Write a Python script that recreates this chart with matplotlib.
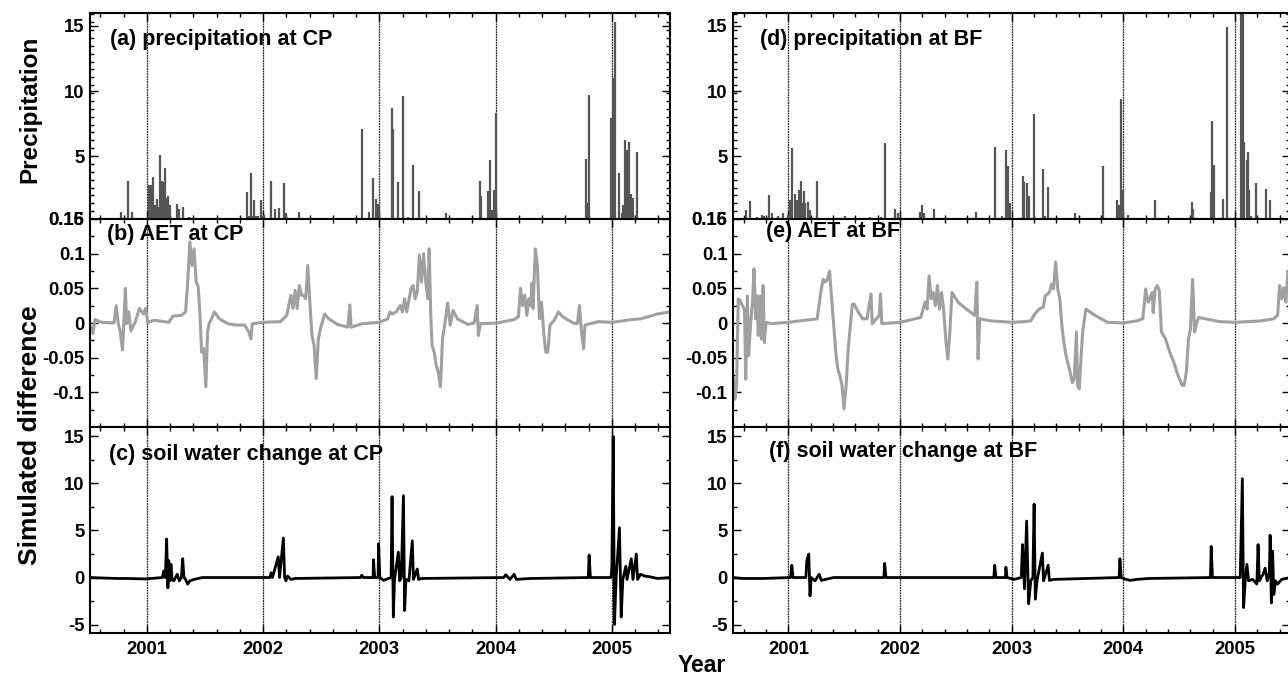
import matplotlib
matplotlib.use("Agg")
import matplotlib.pyplot as plt
from matplotlib.ticker import AutoMinorLocator, FixedLocator

plt.rcParams['font.family'] = ['Liberation Sans', 'DejaVu Sans']
plt.rcParams['font.weight'] = 'bold'
plt.rcParams['axes.unicode_minus'] = False

# ---- precipitation (spikes), decimal year / value ----
precip_cp_t = [2000.725, 2000.779, 2000.808, 2000.837, 2000.870,
               2001.014, 2001.033, 2001.051, 2001.069, 2001.087, 2001.101, 2001.116, 2001.130,
               2001.141, 2001.152, 2001.167, 2001.181, 2001.196, 2001.232, 2001.261, 2001.279,
               2001.312, 2001.359, 2001.406,
               2001.859, 2001.877, 2001.899, 2001.913, 2001.924, 2001.938, 2001.957, 2001.978,
               2001.993, 2002.011, 2002.069, 2002.101, 2002.138, 2002.181, 2002.196, 2002.268,
               2002.312, 2002.746, 2002.848, 2002.909, 2002.949, 2002.967, 2002.986, 2003.000,
               2003.109, 2003.120, 2003.156, 2003.207, 2003.246, 2003.290, 2003.337, 2003.362,
               2003.572, 2003.815, 2003.862, 2003.877, 2003.935, 2003.949, 2003.964, 2003.978,
               2003.989, 2004.005, 2004.775, 2004.790, 2004.804, 2004.993, 2005.011, 2005.025,
               2005.065, 2005.087, 2005.098, 2005.116, 2005.130, 2005.145, 2005.163, 2005.178,
               2005.217]
precip_cp_v = [0.26, 0.7, 0.26, 3.1, 0.7,
               2.8, 2.8, 3.4, 1.2, 1.7, 1.1, 5.1, 3.1,
               3.0, 4.1, 1.8, 1.9, 1.2, 0.2, 1.3, 0.9,
               1.1, 0.35, 0.25,
               2.2, 0.4, 3.7, 0.4, 1.6, 0.4, 0.4, 1.6,
               0.4, 0.45, 3.1, 0.9, 1.0, 2.9, 0.6, 0.2,
               0.7, 0.25, 7.1, 0.7, 3.3, 1.7, 1.3, 1.3,
               8.7, 7.1, 3.0, 9.6, 0.35, 4.3, 2.3, 0.25,
               0.6, 0.25, 3.1, 1.9, 2.3, 4.7, 0.85, 0.85,
               2.4, 8.3, 4.8, 1.4, 9.7, 7.9, 11.0, 15.3,
               3.7, 0.65, 1.2, 6.2, 5.5, 6.1, 2.1, 1.8,
               5.3]

precip_bf_t = [2000.617, 2000.654, 2000.721, 2000.762, 2000.784, 2000.825, 2000.855, 2000.903,
               2000.952, 2000.996, 2001.015, 2001.033, 2001.056, 2001.078, 2001.093, 2001.108,
               2001.123, 2001.138, 2001.152, 2001.171, 2001.190, 2001.260, 2001.357, 2001.509,
               2001.732, 2001.829, 2001.862, 2001.959, 2001.981, 2002.178, 2002.197, 2002.212,
               2002.305, 2002.677, 2002.855, 2002.914, 2002.948, 2002.967, 2002.985,
               2003.100, 2003.115, 2003.134, 2003.152, 2003.201, 2003.283, 2003.301, 2003.327,
               2003.569, 2003.822, 2003.941, 2003.963, 2003.978, 2004.000, 2004.045,
               2004.260, 2004.286, 2004.613, 2004.628, 2004.788, 2004.796, 2004.814, 2004.892,
               2004.929, 2005.056, 2005.071, 2005.086, 2005.108, 2005.119, 2005.130, 2005.149,
               2005.193, 2005.283, 2005.312]
precip_bf_v = [0.85, 1.55, 0.35, 0.5, 0.4, 2.0, 0.6, 0.4,
               0.6, 0.5, 1.6, 5.6, 2.1, 1.6, 2.4, 3.1,
               1.4, 2.3, 1.4, 1.5, 0.85, 3.1, 0.25, 0.4,
               0.3, 0.3, 6.0, 0.9, 0.65, 0.7, 1.2, 0.6,
               0.9, 0.7, 5.7, 0.4, 5.5, 4.2, 1.4,
               3.5, 3.0, 2.9, 1.9, 8.2, 4.0, 0.4, 2.6,
               0.6, 4.2, 1.6, 1.2, 9.4, 2.4, 0.5,
               0.2, 1.6, 1.5, 0.9, 2.2, 7.7, 4.3, 1.7,
               14.9, 17.0, 17.0, 6.1, 4.7, 5.3, 2.4, 0.4,
               2.9, 2.5, 1.6]

# ---- AET simulated difference ----
aet_cp_t = [2000.518, 2000.536, 2000.554, 2000.609, 2000.717, 2000.736, 2000.754, 2000.772,
            2000.790, 2000.801, 2000.815, 2000.826, 2000.844, 2000.862, 2000.899, 2000.935,
            2000.971, 2000.989, 2001.007, 2001.062, 2001.188, 2001.225, 2001.297, 2001.333,
            2001.351, 2001.370, 2001.388, 2001.406, 2001.424, 2001.442, 2001.457, 2001.471,
            2001.489, 2001.507, 2001.522, 2001.536, 2001.551, 2001.580, 2001.594, 2001.623,
            2001.696, 2001.768, 2001.841, 2001.877, 2001.895, 2001.906, 2002.011, 2002.149,
            2002.203, 2002.239, 2002.257, 2002.275, 2002.293, 2002.312, 2002.330, 2002.348,
            2002.366, 2002.384, 2002.402, 2002.420, 2002.438, 2002.457, 2002.475, 2002.493,
            2002.529, 2002.565, 2002.638, 2002.728, 2002.746, 2002.757, 2002.855, 2003.000,
            2003.072, 2003.091, 2003.109, 2003.145, 2003.163, 2003.181, 2003.199, 2003.217,
            2003.236, 2003.272, 2003.290, 2003.308, 2003.326, 2003.344, 2003.362, 2003.380,
            2003.399, 2003.417, 2003.428, 2003.442, 2003.453, 2003.471, 2003.489, 2003.507,
            2003.525, 2003.543, 2003.562, 2003.587, 2003.609, 2003.634, 2003.670, 2003.761,
            2003.815, 2003.841, 2003.851, 2003.870, 2004.011, 2004.159, 2004.196, 2004.214,
            2004.232, 2004.250, 2004.268, 2004.286, 2004.304, 2004.312, 2004.322, 2004.341,
            2004.359, 2004.377, 2004.395, 2004.413, 2004.431, 2004.449, 2004.467, 2004.504,
            2004.540, 2004.576, 2004.667, 2004.703, 2004.721, 2004.739, 2004.757, 2004.768,
            2004.884, 2005.004, 2005.174, 2005.246, 2005.355, 2005.391, 2005.500]
aet_cp_v = [-0.006, -0.015, 0.005, 0.001, 0.0, 0.025, -0.001, -0.013,
            -0.039, -0.003, 0.050, -0.001, 0.016, -0.011, 0.001, 0.021,
            0.013, 0.021, 0.001, 0.004, 0.001, 0.010, 0.011, 0.016,
            0.059, 0.117, 0.083, 0.107, 0.059, 0.052, 0.011, -0.042,
            -0.037, -0.092, -0.013, 0.0, 0.004, 0.016, 0.013, 0.006,
            -0.001, -0.003, -0.003, -0.013, -0.023, -0.001, 0.001, 0.002,
            0.011, 0.040, 0.021, 0.047, 0.021, 0.054, 0.040, 0.040,
            0.035, 0.083, 0.030, -0.018, -0.032, -0.080, -0.023, -0.008,
            0.013, 0.006, -0.002, -0.006, 0.026, -0.006, -0.001, 0.001,
            0.006, 0.016, 0.013, 0.016, 0.021, 0.025, 0.016, 0.035,
            0.016, 0.050, 0.054, 0.035, 0.045, 0.098, 0.059, 0.100,
            0.059, 0.035, 0.107, 0.011, -0.032, -0.042, -0.061, -0.071,
            -0.092, -0.023, -0.003, 0.029, -0.003, 0.018, 0.006, -0.002,
            0.0, 0.025, -0.018, -0.001, 0.0, 0.005, 0.009, 0.050,
            0.025, 0.040, 0.011, 0.035, 0.025, 0.057, 0.021, 0.107,
            0.083, 0.006, 0.030, -0.013, -0.042, -0.042, -0.003, 0.004,
            0.016, 0.009, 0.0, -0.001, 0.025, -0.013, -0.037, -0.003,
            0.002, 0.001, 0.005, 0.006, 0.011, 0.013, 0.016]

aet_bf_t = [2000.506, 2000.520, 2000.535, 2000.550, 2000.569, 2000.587, 2000.606, 2000.617,
            2000.632, 2000.643, 2000.662, 2000.680, 2000.691, 2000.706, 2000.717, 2000.729,
            2000.743, 2000.758, 2000.773, 2000.784, 2000.799, 2000.848, 2000.996, 2001.257,
            2001.294, 2001.312, 2001.331, 2001.349, 2001.368, 2001.387, 2001.405, 2001.424,
            2001.442, 2001.461, 2001.480, 2001.498, 2001.517, 2001.535, 2001.554, 2001.572,
            2001.591, 2001.610, 2001.628, 2001.665, 2001.703, 2001.740, 2001.751, 2001.814,
            2001.825, 2001.836, 2002.000, 2002.186, 2002.223, 2002.242, 2002.260, 2002.279,
            2002.297, 2002.316, 2002.335, 2002.353, 2002.372, 2002.390, 2002.409, 2002.428,
            2002.446, 2002.465, 2002.520, 2002.595, 2002.669, 2002.688, 2002.699, 2002.714,
            2002.818, 2003.004, 2003.115, 2003.171, 2003.208, 2003.245, 2003.283, 2003.301,
            2003.338, 2003.357, 2003.375, 2003.394, 2003.413, 2003.431, 2003.450, 2003.468,
            2003.487, 2003.524, 2003.543, 2003.561, 2003.580, 2003.591, 2003.606, 2003.617,
            2003.636, 2003.665, 2003.747, 2003.859, 2004.000, 2004.119, 2004.175, 2004.201,
            2004.223, 2004.238, 2004.260, 2004.268, 2004.286, 2004.305, 2004.323, 2004.342,
            2004.379, 2004.416, 2004.454, 2004.491, 2004.528, 2004.546, 2004.565, 2004.584,
            2004.602, 2004.621, 2004.639, 2004.658, 2004.677, 2004.862, 2004.996, 2005.234,
            2005.346, 2005.383, 2005.401, 2005.420, 2005.439, 2005.457, 2005.476, 2005.494]
aet_bf_v = [-0.081, -0.110, -0.090, 0.035, 0.032, 0.025, 0.020, -0.081,
            0.039, -0.047, 0.001, 0.035, 0.078, 0.006, 0.039, -0.018,
            0.039, -0.023, 0.054, -0.028, 0.001, -0.001, 0.001, 0.006,
            0.049, 0.063, 0.059, 0.063, 0.075, 0.035, -0.004, -0.042,
            -0.066, -0.076, -0.090, -0.124, -0.090, -0.038, -0.004, 0.027,
            0.027, 0.020, 0.015, 0.006, 0.006, 0.042, -0.001, 0.011,
            0.042, -0.001, 0.001, 0.008, 0.030, 0.020, 0.068, 0.035,
            0.044, 0.025, 0.054, 0.020, 0.044, 0.020, -0.023, -0.052,
            -0.013, 0.044, 0.030, 0.020, 0.011, 0.059, -0.052, 0.006,
            0.003, 0.001, 0.002, 0.003, 0.013, 0.020, 0.023, 0.039,
            0.044, 0.056, 0.049, 0.088, 0.049, 0.035, -0.004, -0.028,
            -0.047, -0.071, -0.086, -0.081, -0.013, -0.090, -0.095, -0.062,
            -0.013, 0.020, 0.011, 0.001, 0.0, 0.003, 0.006, 0.049,
            0.030, 0.035, 0.044, 0.015, 0.049, 0.054, 0.047, -0.013,
            -0.023, -0.042, -0.057, -0.076, -0.090, -0.090, -0.071, -0.023,
            -0.009, 0.063, -0.013, 0.001, 0.008, 0.002, 0.001, 0.003,
            0.006, 0.011, 0.054, 0.035, 0.051, 0.030, 0.075, 0.068]

# ---- soil water change simulated difference ----
soil_cp_t = [2000.511, 2000.736, 2000.826, 2000.989, 2001.134, 2001.145, 2001.159, 2001.170,
             2001.181, 2001.188, 2001.199, 2001.207, 2001.217, 2001.232, 2001.261, 2001.279,
             2001.297, 2001.308, 2001.319, 2001.333, 2001.351, 2001.370, 2001.406, 2001.478,
             2002.058, 2002.069, 2002.080, 2002.130, 2002.141, 2002.174, 2002.185, 2002.196,
             2002.210, 2002.239, 2002.275, 2002.837, 2002.848, 2002.862, 2002.946, 2002.949,
             2002.960, 2002.989, 2002.993, 2003.004, 2003.036, 2003.101, 2003.109, 2003.120,
             2003.130, 2003.163, 2003.174, 2003.188, 2003.207, 2003.217, 2003.228, 2003.254,
             2003.283, 2003.293, 2003.326, 2003.337, 2003.362, 2004.069, 2004.087, 2004.123,
             2004.159, 2004.178, 2004.232, 2004.304, 2004.797, 2004.804, 2004.815, 2004.993,
             2005.000, 2005.011, 2005.022, 2005.036, 2005.065, 2005.080, 2005.094, 2005.120,
             2005.130, 2005.167, 2005.181, 2005.210, 2005.221, 2005.246, 2005.283, 2005.319,
             2005.391, 2005.500]
soil_cp_v = [0.0, -0.1, -0.1, -0.15, 0.0, 0.7, 0.0, 4.1,
             -1.1, 1.8, -0.35, 1.4, -0.2, -0.35, 0.35, -0.35,
             0.0, 2.0, 0.0, -0.2, -0.7, -0.35, -0.2, 0.0,
             0.0, 0.5, 0.0, 2.2, 0.0, 4.2, 0.0, -0.35,
             0.15, -0.2, -0.1, 0.0, 0.25, 0.0, 0.0, 1.9,
             0.0, 0.0, 3.6, 0.0, -0.3, 0.0, 8.6, -4.2,
             -0.2, 2.7, -0.35, 0.0, 8.7, -3.5, -0.2, -0.35,
             3.9, -0.2, 0.9, -0.2, -0.1, 0.0, 0.3, -0.2,
             0.35, -0.2, -0.15, -0.1, 0.0, 2.4, 0.0, 0.0,
             1.2, 15.0, -5.0, -0.2, 5.3, -4.2, -0.2, 1.2,
             -0.2, 2.0, -0.2, 2.5, -0.2, 0.35, 0.15, 0.1,
             -0.1, 0.0]

soil_bf_t = [2000.506, 2000.587, 2000.773, 2001.019, 2001.030, 2001.041, 2001.156, 2001.164,
             2001.182, 2001.193, 2001.204, 2001.238, 2001.275, 2001.294, 2001.331, 2001.405,
             2001.855, 2001.862, 2001.874, 2002.840, 2002.848, 2002.859, 2002.944, 2002.948,
             2002.959, 2003.022, 2003.086, 2003.097, 2003.115, 2003.134, 2003.152, 2003.171,
             2003.190, 2003.201, 2003.212, 2003.227, 2003.275, 2003.286, 2003.327, 2003.338,
             2003.375, 2003.963, 2003.970, 2003.981, 2004.026, 2004.063, 2004.119, 2004.230,
             2004.781, 2004.788, 2004.799, 2005.048, 2005.067, 2005.078, 2005.093, 2005.108,
             2005.123, 2005.160, 2005.197, 2005.208, 2005.219, 2005.253, 2005.271, 2005.290,
             2005.309, 2005.316, 2005.327, 2005.338, 2005.349, 2005.364, 2005.383, 2005.420,
             2005.494]
soil_bf_v = [0.0, -0.1, -0.1, 0.0, 1.3, 0.0, 0.0, 1.8,
             2.5, -1.95, 0.0, -0.35, 0.35, -0.3, -0.2, 0.0,
             0.0, 1.5, 0.0, 0.0, 1.3, 0.0, 0.0, 1.1,
             0.0, -0.2, 0.0, 3.5, -1.2, 6.0, -2.8, -0.35,
             0.0, 7.8, -2.3, -0.35, 2.6, -0.35, 1.3, -0.3,
             -0.2, 0.0, 2.0, 0.0, -0.2, -0.3, -0.2, -0.1,
             0.0, 3.3, 0.0, 0.0, 10.5, -3.2, -0.35, 1.4,
             -0.35, -0.2, -0.7, 3.5, -0.35, 0.35, 1.0, -0.35,
             0.5, 4.5, -2.7, 2.8, -1.8, -0.35, -0.7, -0.2,
             0.0]

years = [2001, 2002, 2003, 2004, 2005]

fig = plt.figure(figsize=(12.88, 6.79), dpi=100)

row_bottoms = [0.6775, 0.3711, 0.0677]
row_h = [0.3034, 0.3064, 0.3034]
col_left = [0.0699, 0.5691]
col_w = [0.4503, 0.4321]
xlims = [(2000.511, 2005.50), (2000.503, 2005.49)]

panels = [
    [('(a) precipitation at CP', 'precip', precip_cp_t, precip_cp_v),
     ('(b) AET at CP', 'aet', aet_cp_t, aet_cp_v),
     ('(c) soil water change at CP', 'soil', soil_cp_t, soil_cp_v)],
    [('(d) precipitation at BF', 'precip', precip_bf_t, precip_bf_v),
     ('(e) AET at BF', 'aet', aet_bf_t, aet_bf_v),
     ('(f) soil water change at BF', 'soil', soil_bf_t, soil_bf_v)],
]
title_pos = [[(0.034, 0.845), (0.029, 0.899), (0.032, 0.840)],
             [(0.049, 0.845), (0.059, 0.913), (0.065, 0.854)]]

for c in range(2):
    for r in range(3):
        title, kind, t, v = panels[c][r]
        ax = fig.add_axes([col_left[c], row_bottoms[r], col_w[c], row_h[r]])
        if kind == 'precip':
            ax.vlines(t, 0.16, v, colors='#555555', linewidth=1.6)
            ax.set_ylim(0.16, 16)
            ax.yaxis.set_major_locator(FixedLocator([0.16, 5, 10, 15]))
            ax.set_yticklabels(['0.16', '5', '10', '15'])
            ax.yaxis.set_minor_locator(AutoMinorLocator(8))
        elif kind == 'aet':
            ax.plot(t, v, color='#a0a0a0', linewidth=2.2)
            ax.set_ylim(-0.15, 0.15)
            ax.yaxis.set_major_locator(FixedLocator([-0.1, -0.05, 0, 0.05, 0.1, 0.15]))
            ax.set_yticklabels(['-0.1', '-0.05', '0', '0.05', '0.1', '0.15'])
            ax.yaxis.set_minor_locator(AutoMinorLocator(2))
        else:
            ax.plot(t, v, color='black', linewidth=2)
            ax.set_ylim(-5.9, 16)
            ax.yaxis.set_major_locator(FixedLocator([-5, 0, 5, 10, 15]))
            ax.set_yticklabels(['-5', '0', '5', '10', '15'])
            ax.yaxis.set_minor_locator(AutoMinorLocator(2))
        for yr in years:
            ax.axvline(yr, color='#222222', linewidth=0.9, linestyle=(0, (1.5, 0.6)), zorder=0)
        ax.set_xlim(*xlims[c])
        ax.set_xticks(years)
        ax.xaxis.set_minor_locator(AutoMinorLocator(5))
        if r < 2:
            ax.set_xticklabels([])
        ax.tick_params(which='both', direction='in', top=True, right=True, width=1)
        ax.tick_params(which='major', length=6, labelsize=13.3, pad=4)
        ax.tick_params(axis='x', which='major', pad=6)
        ax.tick_params(which='minor', length=3)
        for lab in ax.get_xticklabels() + ax.get_yticklabels():
            lab.set_fontweight('bold')
        for sp in ax.spines.values():
            sp.set_linewidth(1.5)
        tx, ty = title_pos[c][r]
        ax.text(tx, ty, title, transform=ax.transAxes, fontsize=15.5,
                fontweight='bold', va='baseline', ha='left')

fig.text(0.0233, 0.8395, 'Precipitation', rotation=90, fontsize=17.5, fontweight='bold',
         ha='center', va='center')
fig.text(0.0233, 0.3594, 'Simulated difference', rotation=90, fontsize=19, fontweight='bold',
         ha='center', va='center')
fig.text(0.545, 0.0103, 'Year', fontsize=16.5, fontweight='bold', ha='center', va='baseline')

fig.savefig('out.png', dpi=100)
